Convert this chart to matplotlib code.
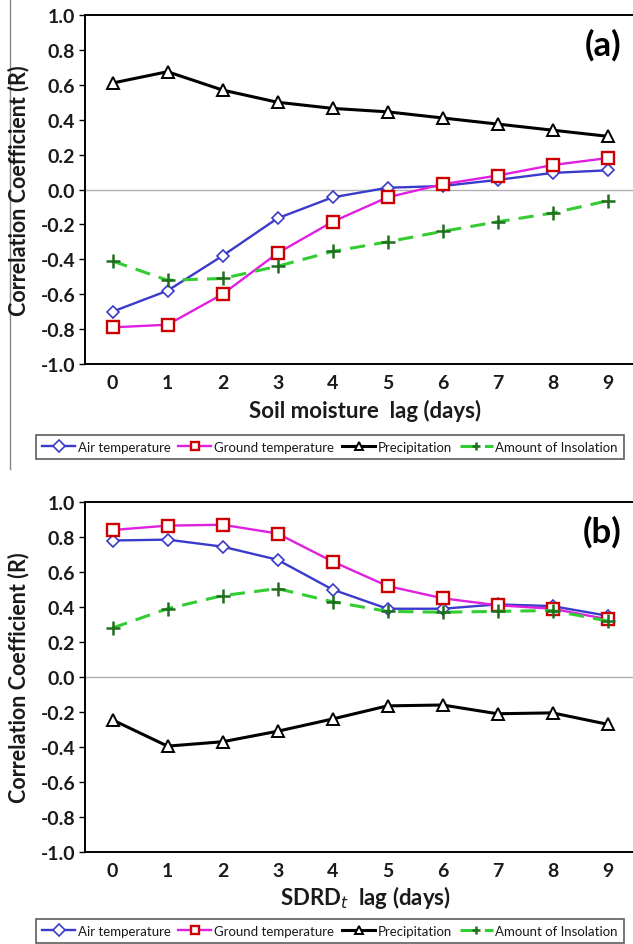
import matplotlib
matplotlib.use("Agg")
import matplotlib.pyplot as plt
from matplotlib.lines import Line2D

lags = [0, 1, 2, 3, 4, 5, 6, 7, 8, 9]
series_names = ["Air temperature", "Ground temperature", "Precipitation", "Amount of Insolation"]

# Panel (a): Soil moisture lag
a_air = [-0.70, -0.58, -0.38, -0.165, -0.045, 0.01, 0.02, 0.055, 0.095, 0.11]
a_ground = [-0.79, -0.775, -0.60, -0.365, -0.185, -0.045, 0.03, 0.08, 0.14, 0.18]
a_precip = [0.61, 0.675, 0.57, 0.50, 0.465, 0.445, 0.41, 0.375, 0.34, 0.305]
a_insol = [-0.41, -0.52, -0.51, -0.44, -0.355, -0.30, -0.24, -0.185, -0.135, -0.065]

# Panel (b): SDRD_t lag
b_air = [0.78, 0.785, 0.745, 0.67, 0.50, 0.39, 0.39, 0.415, 0.405, 0.35]
b_ground = [0.84, 0.865, 0.87, 0.82, 0.66, 0.52, 0.45, 0.41, 0.39, 0.33]
b_precip = [-0.245, -0.395, -0.37, -0.31, -0.24, -0.165, -0.16, -0.21, -0.205, -0.27]
b_insol = [0.28, 0.39, 0.465, 0.505, 0.43, 0.375, 0.37, 0.375, 0.38, 0.32]

yticks = [-1.0, -0.8, -0.6, -0.4, -0.2, 0.0, 0.2, 0.4, 0.6, 0.8, 1.0]
ytick_labels = ["-1.0", "-0.8", "-0.6", "-0.4", "-0.2", "0.0", "0.2", "0.4", "0.6", "0.8", "1.0"]

FONT = "Lato"
W, H = 633, 945
fig = plt.figure(figsize=(W / 100, H / 100), dpi=100)


def draw_panel(top_px, bottom_px, data, tag, xlabel, xlabel_y, legend_y):
    left_px, right_px = 85, 635
    ax = fig.add_axes([left_px / W, 1 - bottom_px / H, (right_px - left_px) / W, (bottom_px - top_px) / H])
    air, ground, precip, insol = data
    ax.axhline(0, color="#b0b0b0", lw=1.0, zorder=1)
    h1, = ax.plot(lags, air, color="#3a3acc", lw=1.7, marker="D", ms=6.5, mfc="white",
                  mec="#3a3acc", mew=1.2, zorder=3)
    h2, = ax.plot(lags, ground, color="#e020e0", lw=1.7, marker="s", ms=8, mfc="white",
                  mec="#cc0000", mew=1.7, zorder=3)
    h3, = ax.plot(lags, precip, color="black", lw=2.2, marker="^", ms=8.5, mfc="white",
                  mec="black", mew=1.4, zorder=3)
    h4, = ax.plot(lags, insol, color="#33cc33", lw=2.2, ls=(0, (5, 3)), marker="+", ms=10,
                  mec="#1f6f1f", mew=1.8, zorder=3)
    ax.set_xlim(-0.5, 9.5)
    ax.set_ylim(-1.0, 1.0)
    ax.set_yticks(yticks)
    ax.set_yticklabels(ytick_labels)
    ax.set_xticks(lags)
    ax.set_xticklabels([str(v) for v in lags])
    for s in ax.spines.values():
        s.set_linewidth(1.4)
        s.set_color("black")
    ax.tick_params(axis="y", direction="out", length=4, width=1.0, pad=3, labelsize=14)
    ax.tick_params(axis="x", length=0, pad=7, labelsize=14)
    for lbl in ax.get_xticklabels() + ax.get_yticklabels():
        lbl.set_fontfamily(FONT)
        lbl.set_fontweight("bold")
        lbl.set_color("#1a1a1a")
    ax.text(0.975, 0.915, tag, transform=ax.transAxes, ha="right", va="center",
            fontsize=25, fontweight="bold", family=FONT)
    fig.text(365 / W, 1 - xlabel_y / H, xlabel, ha="center", va="center",
             fontsize=16, family=FONT, fontweight="bold", color="#1a1a1a")
    fig.text(19 / W, 1 - (top_px + bottom_px) / 2 / H, "Correlation Coefficient (R)",
             rotation=90, ha="center", va="center", fontsize=15.5, family=FONT,
             fontweight="bold", color="#1a1a1a")
    leg = fig.legend([h1, h2, h3, h4], series_names, loc="center",
                     bbox_to_anchor=(330 / W, 1 - legend_y / H), ncol=4,
                     frameon=True, fancybox=False, edgecolor="#333333", handlelength=2.5,
                     handletextpad=0.2, columnspacing=0.6, borderpad=0.45,
                     prop={"family": FONT, "size": 9.5})
    leg.get_frame().set_linewidth(1.2)
    for t in leg.get_texts():
        t.set_color("#1a1a1a")
    for lh in leg.legend_handles:
        lh.set_markersize(6)
    return ax


draw_panel(16, 365, (a_air, a_ground, a_precip, a_insol), "(a)",
           "Soil moisture  lag (days)", 411, 448)
draw_panel(503, 853, (b_air, b_ground, b_precip, b_insol), "(b)",
           "SDRD$_t$  lag (days)", 898, 932)

fig.add_artist(Line2D([10 / W, 10 / W], [1 - 470 / H, 1.0], transform=fig.transFigure,
                      color="#888888", lw=1.0))

fig.savefig("out.png", dpi=100, facecolor="white")
